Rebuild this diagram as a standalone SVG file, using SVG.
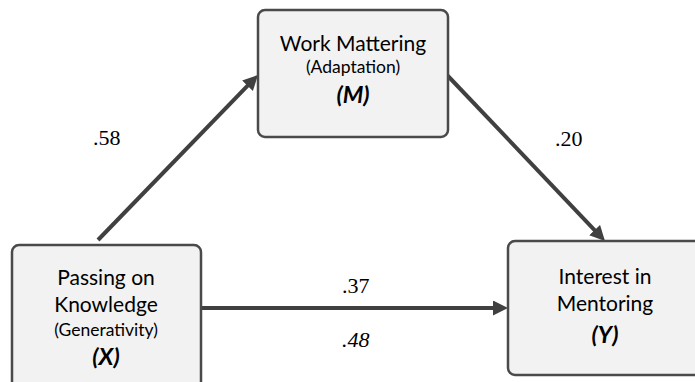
<svg xmlns="http://www.w3.org/2000/svg" width="695" height="382" viewBox="0 0 695 382">
  <style>
    .box { fill: #f2f2f2; stroke: #4a4a4a; stroke-width: 2.5; }
    .main { font-family: Lato, "Open Sans", sans-serif; font-size: 21px; fill: #000; text-anchor: middle; }
    .sub { font-family: Lato, "Open Sans", sans-serif; font-size: 17.5px; fill: #000; text-anchor: middle; }
    .var { font-family: Lato, "Open Sans", sans-serif; font-size: 23.5px; font-weight: bold; font-style: italic; fill: #000; text-anchor: middle; }
    .edge { stroke: #404040; stroke-width: 4; fill: none; marker-end: url(#arrow); }
    .coef { font-family: "Liberation Serif", "Times New Roman", serif; font-size: 22px; fill: #000; }
  </style>
  <defs>
    <marker id="arrow" markerUnits="userSpaceOnUse" markerWidth="16" markerHeight="16" refX="3" refY="7.5" orient="auto">
      <path d="M0,0 L15,7.5 L0,15 z" fill="#404040"/>
    </marker>
  </defs>

  <rect width="695" height="382" fill="#ffffff"/>

  <!-- connectors -->
  <g id="connectors">
    <line class="edge" x1="98" y1="240" x2="249.6" y2="83.6"/>
    <line class="edge" x1="447" y1="75" x2="596.7" y2="232.3"/>
    <line class="edge" x1="201" y1="308" x2="496" y2="308"/>
    <text class="coef" x="93" y="145">.58</text>
    <text class="coef" x="555" y="146">.20</text>
    <text class="coef" x="342" y="293">.37</text>
    <text class="coef" x="342" y="347" font-style="italic">.48</text>
  </g>

  <!-- mediator -->
  <g id="node-m">
    <rect class="box" x="258" y="10" width="190" height="127" rx="7"/>
    <text class="main" x="353" y="51">Work Mattering</text>
    <text class="sub" x="353" y="73">(Adaptation)</text>
    <text class="var" x="353" y="103">(M)</text>
  </g>

  <!-- predictor -->
  <g id="node-x">
    <rect class="box" x="12" y="245" width="189" height="150" rx="7"/>
    <text class="main" x="106" y="285">Passing on</text>
    <text class="main" x="106" y="312">Knowledge</text>
    <text class="sub" x="106" y="336">(Generativity)</text>
    <text class="var" x="106" y="365">(X)</text>
  </g>

  <!-- outcome -->
  <g id="node-y">
    <rect class="box" x="508" y="241" width="195" height="134" rx="7"/>
    <text class="main" x="605" y="284">Interest in</text>
    <text class="main" x="605" y="311">Mentoring</text>
    <text class="var" x="605" y="343">(Y)</text>
  </g>
</svg>
